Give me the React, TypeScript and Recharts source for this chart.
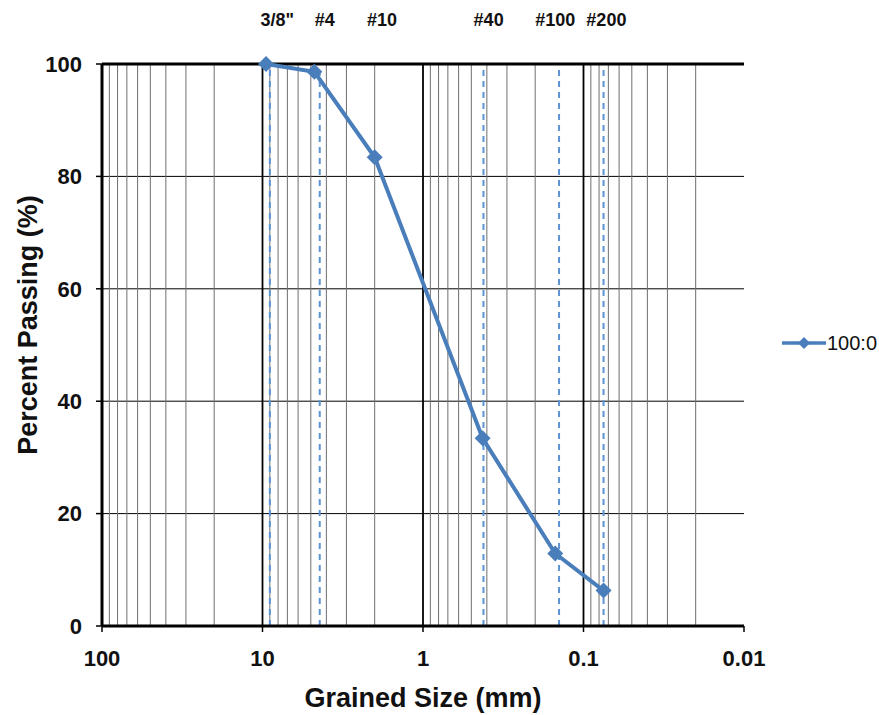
import React from "react";
import {
  LineChart,
  Line,
  XAxis,
  YAxis,
  CartesianGrid,
  ReferenceLine,
} from "recharts";

// sieve results
const grainSizes = [9.5, 4.75, 2.0, 0.425, 0.15, 0.075];
const percentPassing = [100, 98.6, 83.4, 33.4, 12.9, 6.3];

// sieve names shown above the plot, and where they sit
const sieveLabels = ['3/8"', "#4", "#10", "#40", "#100", "#200"];
const sieveLabelSizes = [8.1, 4.1, 1.8, 0.39, 0.15, 0.072];

// dashed marker lines
const sieveLineSizes = [9.0, 4.4, 0.42, 0.142, 0.075];

const decadeTicks = [100, 10, 1, 0.1, 0.01];
const minorSteps = [2, 3, 4, 5, 6, 7, 8, 9];
const yTicks = [0, 20, 40, 60, 80, 100];

const seriesName = "100:0";
const BLUE = "#4a7ebb";
const FONT = "'Liberation Sans', Arial, sans-serif";

const data = grainSizes.map((s, i) => ({ size: s, pass: percentPassing[i] }));
const minorLines = decadeTicks
  .slice(1)
  .flatMap((d) => minorSteps.map((m) => +(d * m).toPrecision(3)));

const Diamond = (props: any) => {
  const { cx, cy, index } = props;
  if (cx == null || cy == null) return null;
  const r = 8;
  return (
    <path
      key={"d" + index}
      d={`M${cx},${cy - r}L${cx + r},${cy}L${cx},${cy + r}L${cx - r},${cy}Z`}
      fill={BLUE}
    />
  );
};

const sieveLabel = (text: string) => (p: any) => {
  const vb = p.viewBox;
  return (
    <text
      x={vb.x}
      y={vb.y - 38}
      textAnchor="middle"
      fontFamily={FONT}
      fontWeight="bold"
      fontSize={18}
      fill="#111"
    >
      {text}
    </text>
  );
};

export default function App() {
  return (
    <div style={{ position: "absolute", left: 0, top: 0, width: 879, height: 715, background: "#fff" }}>
      <LineChart
        width={879}
        height={715}
        data={data}
        margin={{ top: 64, right: 135, bottom: 29, left: 0 }}
      >
        <CartesianGrid vertical={false} stroke="#000" strokeWidth={1} />
        {minorLines.map((v) => (
          <ReferenceLine key={"m" + v} x={v} stroke="#6f6f6f" strokeWidth={1} />
        ))}
        {decadeTicks.slice(1, 4).map((v) => (
          <ReferenceLine key={"M" + v} x={v} stroke="#000" strokeWidth={1.8} />
        ))}
        {sieveLineSizes.map((v) => (
          <ReferenceLine
            key={"s" + v}
            x={v}
            stroke="#5b93d3"
            strokeWidth={2}
            strokeDasharray="6 5"
          />
        ))}
        {sieveLabelSizes.map((v, i) => (
          <ReferenceLine
            key={"l" + v}
            x={v}
            stroke="none"
            label={{ content: sieveLabel(sieveLabels[i]) }}
          />
        ))}
        <ReferenceLine y={100} stroke="#000" strokeWidth={3} />
        <XAxis
          dataKey="size"
          type="number"
          scale="log"
          domain={[0.01, 100]}
          ticks={decadeTicks}
          reversed
          allowDataOverflow
          height={60}
          axisLine={{ stroke: "#000", strokeWidth: 3 }}
          tickLine={{ stroke: "#000", strokeWidth: 1.5 }}
          tickSize={6}
          tickMargin={18}
          tick={{ fill: "#111", fontSize: 22, fontWeight: "bold", fontFamily: FONT }}
          label={{
            content: (p: any) => {
              const vb = p.viewBox;
              return (
                <text
                  x={vb.x + vb.width / 2}
                  y={vb.y + 81}
                  textAnchor="middle"
                  fontFamily={FONT}
                  fontWeight="bold"
                  fontSize={27}
                  fill="#111"
                >
                  Grained Size (mm)
                </text>
              );
            },
          }}
        />
        <YAxis
          type="number"
          domain={[0, 100]}
          ticks={yTicks}
          width={102}
          axisLine={{ stroke: "#000", strokeWidth: 3 }}
          tickLine={{ stroke: "#000", strokeWidth: 1.5 }}
          tickSize={6}
          tickMargin={14}
          tick={{ fill: "#111", fontSize: 22, fontWeight: "bold", fontFamily: FONT }}
          label={{
            content: (p: any) => {
              const vb = p.viewBox;
              const cx = vb.x + 28;
              const cy = vb.y + vb.height / 2 - 20;
              return (
                <text
                  x={cx}
                  y={cy}
                  transform={`rotate(-90 ${cx} ${cy})`}
                  textAnchor="middle"
                  dominantBaseline="central"
                  fontFamily={FONT}
                  fontWeight="bold"
                  fontSize={27}
                  fill="#111"
                >
                  Percent Passing (%)
                </text>
              );
            },
          }}
        />
        <YAxis
          yAxisId="right"
          orientation="right"
          type="number"
          domain={[0, 100]}
          width={0}
          tick={false}
          tickLine={false}
          axisLine={{ stroke: "#000", strokeWidth: 3 }}
        />
        <Line
          type="linear"
          dataKey="pass"
          name={seriesName}
          stroke={BLUE}
          strokeWidth={4}
          dot={Diamond}
          activeDot={false}
          isAnimationActive={false}
        />
      </LineChart>
      <div
        style={{
          position: "absolute",
          left: 782,
          top: 331,
          display: "flex",
          alignItems: "center",
          fontFamily: FONT,
          fontSize: 20,
          color: "#111",
        }}
      >
        <svg width={44} height={24}>
          <line x1={0} y1={12} x2={44} y2={12} stroke={BLUE} strokeWidth={3.5} />
          <path d="M22,6L28,12L22,18L16,12Z" fill={BLUE} />
        </svg>
        <span style={{ marginLeft: 1 }}>{seriesName}</span>
      </div>
    </div>
  );
}
